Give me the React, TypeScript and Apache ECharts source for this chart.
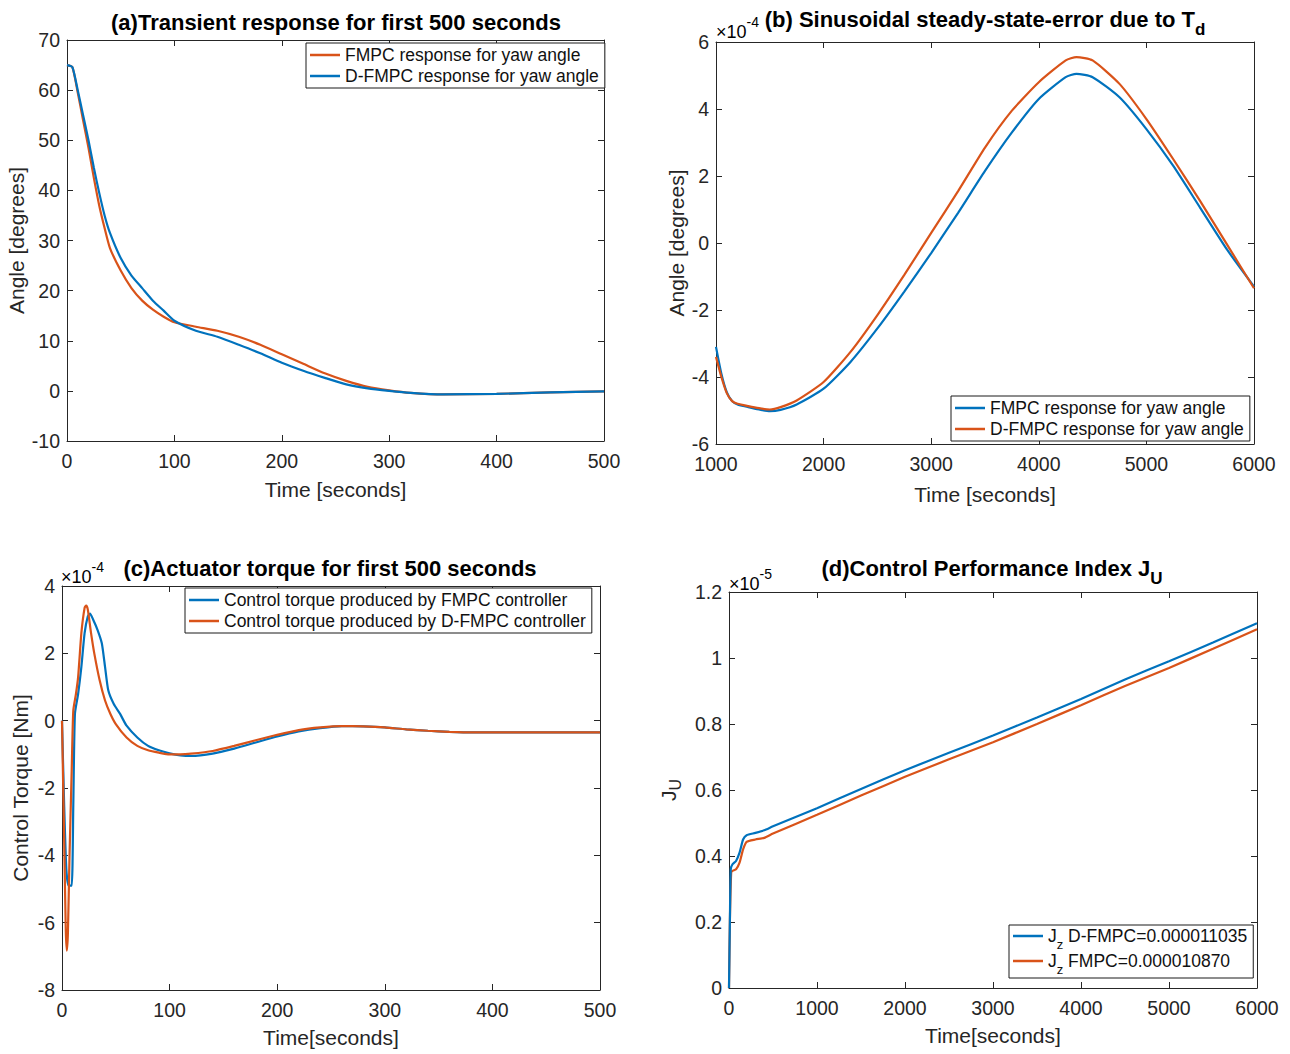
import React, { useEffect, useRef } from 'react';
import * as echarts from 'echarts';

const BLUE = '#0072BD';
const ORANGE = '#D95319';
const AX = '#262626';
const FONT = '"Liberation Sans", Arial, sans-serif';

// ---------- (a) Transient response for first 500 seconds (degrees)
const tA = [0, 5, 10, 15, 20, 25, 30, 35, 40, 50, 60, 70, 80, 90, 100, 120, 140, 160, 180, 200, 220, 240, 260, 280, 300, 320, 350, 400, 450, 500];
const aDFMPC = [65, 64.6, 60, 55, 50, 44.5, 39.5, 35, 31.5, 26.5, 23, 20.5, 18, 16, 14, 12, 10.8, 9.2, 7.5, 5.6, 4, 2.6, 1.3, 0.5, 0, -0.4, -0.7, -0.6, -0.3, -0.1];
const aFMPC = [65, 64.6, 59.5, 54, 48.5, 42.5, 37, 32.5, 28.5, 24, 20.5, 18, 16.2, 14.8, 13.7, 12.8, 12, 10.8, 9.2, 7.3, 5.4, 3.5, 2, 0.8, 0.1, -0.4, -0.7, -0.6, -0.3, -0.1];

// ---------- (b) Sinusoidal steady-state error (x 1e-4 degrees)
const tB = [1000, 1050, 1100, 1150, 1200, 1300, 1400, 1500, 1600, 1750, 2000, 2250, 2500, 2750, 3000, 3250, 3500, 3750, 4000, 4250, 4350, 4500, 4750, 5000, 5250, 5500, 5750, 6000];
const bFMPC = [-3.1, -3.9, -4.45, -4.72, -4.82, -4.9, -4.97, -5.02, -4.98, -4.82, -4.35, -3.55, -2.55, -1.45, -0.3, 0.9, 2.15, 3.3, 4.3, 4.95, 5.05, 4.95, 4.35, 3.4, 2.3, 1.05, -0.2, -1.3];
const bDFMPC = [-3.4, -4.0, -4.48, -4.72, -4.8, -4.87, -4.93, -4.97, -4.9, -4.7, -4.15, -3.25, -2.15, -0.95, 0.3, 1.55, 2.85, 3.95, 4.8, 5.45, 5.55, 5.45, 4.75, 3.7, 2.5, 1.25, -0.05, -1.35];

// ---------- (c) Actuator torque (x 1e-4 Nm)
const tCF = [0, 2, 4, 6, 9, 10.5, 12, 15, 18, 21, 24, 26, 29, 33, 37, 40, 43, 48, 54, 60, 70, 80, 90, 100, 110, 120, 140, 160, 180, 200, 220, 240, 260, 280, 300, 320, 340, 360, 380, 400, 450, 500];
const cFMPC = [0, -2.5, -4.4, -4.9, -4.9, -2.5, 0.2, 0.8, 1.6, 2.6, 3.1, 3.18, 3.0, 2.7, 2.3, 1.6, 0.9, 0.5, 0.2, -0.15, -0.5, -0.75, -0.88, -0.97, -1.03, -1.05, -0.98, -0.83, -0.65, -0.47, -0.32, -0.22, -0.16, -0.17, -0.2, -0.26, -0.3, -0.33, -0.35, -0.35, -0.35, -0.35];
const tCD = [0, 2, 3.5, 4.5, 5.5, 7, 9, 10.5, 13, 15, 18, 21, 22.5, 24, 27, 30, 35, 40, 45, 50, 60, 70, 80, 90, 100, 110, 120, 140, 160, 180, 200, 220, 240, 260, 280, 300, 320, 340, 360, 380, 400, 450, 500];
const cDFMPC = [0, -3.5, -6.2, -6.83, -6.3, -4, -1.5, 0.3, 0.8, 1.3, 2.6, 3.35, 3.42, 3.3, 2.6, 2.0, 1.2, 0.6, 0.2, -0.1, -0.5, -0.75, -0.88, -0.95, -1.0, -1.0, -0.98, -0.9, -0.75, -0.58, -0.42, -0.28, -0.2, -0.16, -0.17, -0.2, -0.26, -0.3, -0.33, -0.35, -0.35, -0.35, -0.35];

// ---------- (d) Control performance index (x 1e-5)
const tDB = [0, 10, 20, 40, 80, 120, 160, 200, 300, 400, 500, 1000, 1500, 2000, 2500, 3000, 3500, 4000, 4500, 5000, 5500, 6000];
const dDFMPC = [0, 0.2, 0.36, 0.375, 0.385, 0.41, 0.45, 0.463, 0.47, 0.478, 0.49, 0.545, 0.603, 0.66, 0.713, 0.765, 0.82, 0.876, 0.935, 0.99, 1.047, 1.105];
const tDO = [0, 10, 25, 40, 80, 120, 160, 200, 300, 400, 500, 1000, 1500, 2000, 2500, 3000, 3500, 4000, 4500, 5000, 5500, 6000];
const dFMPC = [0, 0.2, 0.35, 0.355, 0.36, 0.38, 0.42, 0.443, 0.45, 0.455, 0.468, 0.525, 0.583, 0.64, 0.693, 0.745, 0.8, 0.857, 0.915, 0.97, 1.028, 1.087];

const LABELS: Record<string, string> = {
  aF: 'FMPC response for yaw angle',
  aD: 'D-FMPC response for yaw angle',
  bF: 'FMPC response for yaw angle',
  bD: 'D-FMPC response for yaw angle',
  cF: 'Control torque produced by FMPC controller',
  cD: 'Control torque produced by D-FMPC controller',
  dD: '{j|J}{s|z}{t| D-FMPC=0.000011035}',
  dF: '{j|J}{s|z}{t| FMPC=0.000010870}',
};

const grids = [
  { left: 67, top: 40, width: 537, height: 401 },
  { left: 716, top: 42, width: 538, height: 402 },
  { left: 62, top: 586, width: 538, height: 404 },
  { left: 729, top: 592, width: 528, height: 396 },
];

const TICK = 19.5;
const NAME = 21;

const fmt = (v: number) => String(parseFloat(Number(v).toFixed(6)));

function xPair(g: number, min: number, max: number, interval: number, name: string, gap: number) {
  const common = {
    type: 'value', gridIndex: g, min, max, interval,
    splitLine: { show: false },
    axisLine: { onZero: false, lineStyle: { color: AX, width: 1 } },
    axisTick: { inside: true, length: 6, lineStyle: { color: AX } },
  };
  return [
    {
      ...common, position: 'bottom', name, nameLocation: 'middle', nameGap: gap,
      nameTextStyle: { fontSize: NAME, color: AX, fontFamily: FONT },
      axisLabel: { fontSize: TICK, color: AX, fontFamily: FONT, margin: 10, formatter: fmt },
    },
    { ...common, position: 'top', axisLabel: { show: false } },
  ];
}

function yPair(g: number, min: number, max: number, interval: number, name: string, gap: number, rich?: any) {
  const common = {
    type: 'value', gridIndex: g, min, max, interval,
    splitLine: { show: false },
    axisLine: { onZero: false, lineStyle: { color: AX, width: 1 } },
    axisTick: { inside: true, length: 6, lineStyle: { color: AX } },
  };
  return [
    {
      ...common, position: 'left', name, nameLocation: 'middle', nameGap: gap, nameRotate: 90,
      nameTextStyle: { fontSize: NAME, color: AX, fontFamily: FONT, rich },
      axisLabel: { fontSize: TICK, color: AX, fontFamily: FONT, margin: 7, formatter: fmt },
    },
    { ...common, position: 'right', axisLabel: { show: false } },
  ];
}

function line(name: string, xs: number[], ys: number[], color: string, g: number, z: number) {
  return {
    type: 'line', name, xAxisIndex: 2 * g, yAxisIndex: 2 * g,
    data: xs.map((x, i) => [x, ys[i]]),
    symbol: 'none', showSymbol: false, smooth: 0.2,
    lineStyle: { color, width: 2.2 }, itemStyle: { color }, z, clip: true,
  };
}

function legend(names: string[], left: number, top: number, extra: any = {}) {
  return {
    data: names, orient: 'vertical', left, top, selectedMode: false,
    backgroundColor: '#fff', borderColor: '#1a1a1a', borderWidth: 1,
    padding: [3, 6, 3, 4], itemGap: 3, itemWidth: 30, itemHeight: 2.5, icon: 'rect',
    formatter: (n: string) => LABELS[n],
    textStyle: { fontSize: 17.5, color: '#111', fontFamily: FONT, ...(extra.textStyle || {}) },
    ...extra.rest,
  };
}

const subRich = (size: number, sub: number, lh: number, bold = false) => ({
  m: { fontSize: size, fontFamily: FONT, fontWeight: bold ? 'bold' : 'normal', color: bold ? '#000' : AX, lineHeight: lh, verticalAlign: 'middle' },
  s: { fontSize: sub, fontFamily: FONT, fontWeight: bold ? 'bold' : 'normal', color: bold ? '#000' : AX, lineHeight: lh, verticalAlign: 'bottom' },
});

function title(text: string, x: number, y: number) {
  return {
    type: 'text', x, y, z: 100,
    style: {
      text, rich: subRich(22, 17, 38, true),
      fontSize: 22, fontWeight: 'bold', fontFamily: FONT, fill: '#000',
      align: 'center', verticalAlign: 'middle',
    },
  };
}

function mult(exp: string, x: number, y: number) {
  return {
    type: 'text', x, y, z: 100,
    style: {
      text: `{a|×10}{b|${exp}}`,
      rich: {
        a: { fontSize: 18, fontFamily: FONT, color: AX, lineHeight: 26, verticalAlign: 'bottom' },
        b: { fontSize: 14, fontFamily: FONT, color: AX, lineHeight: 26, verticalAlign: 'top' },
      },
      align: 'left', verticalAlign: 'middle',
    },
  };
}

const option: any = {
  animation: false,
  backgroundColor: '#fff',
  grid: grids.map((g) => ({ ...g, containLabel: false })),
  xAxis: [
    ...xPair(0, 0, 500, 100, 'Time [seconds]', 38),
    ...xPair(1, 1000, 6000, 1000, 'Time [seconds]', 40),
    ...xPair(2, 0, 500, 100, 'Time[seconds]', 37),
    ...xPair(3, 0, 6000, 1000, 'Time[seconds]', 37),
  ],
  yAxis: [
    ...yPair(0, -10, 70, 10, 'Angle [degrees]', 40),
    ...yPair(1, -6, 6, 2, 'Angle [degrees]', 29),
    ...yPair(2, -8, 4, 2, 'Control Torque [Nm]', 31),
    ...yPair(3, 0, 1.2, 0.2, '{m|J}{s|U}', 46, subRich(NAME, 16, 30)),
  ],
  legend: [
    legend(['aF', 'aD'], 306, 43),
    legend(['bF', 'bD'], 951, 396),
    legend(['cF', 'cD'], 185, 588),
    legend(['dD', 'dF'], 1009, 925, {
      textStyle: {
        rich: {
          j: { fontSize: 17.5, fontFamily: FONT, color: '#111', lineHeight: 30, verticalAlign: 'middle' },
          s: { fontSize: 13, fontFamily: FONT, color: '#111', lineHeight: 30, verticalAlign: 'bottom' },
          t: { fontSize: 17.5, fontFamily: FONT, color: '#111', lineHeight: 30, verticalAlign: 'middle' },
        },
      },
      rest: { itemGap: 1, padding: [2, 6, 2, 4] },
    }),
  ],
  series: [
    line('aF', tA, aFMPC, ORANGE, 0, 2),
    line('aD', tA, aDFMPC, BLUE, 0, 3),
    line('bF', tB, bFMPC, BLUE, 1, 2),
    line('bD', tB, bDFMPC, ORANGE, 1, 3),
    line('cF', tCF, cFMPC, BLUE, 2, 2),
    line('cD', tCD, cDFMPC, ORANGE, 2, 3),
    line('dF', tDO, dFMPC, ORANGE, 3, 2),
    line('dD', tDB, dDFMPC, BLUE, 3, 3),
  ],
  graphic: [
    title('{m|(a)Transient response for first 500 seconds}', 336, 22),
    title('{m|(b) Sinusoidal steady-state-error due to T}{s|d}', 985, 19),
    title('{m|(c)Actuator torque for first 500 seconds}', 330, 568),
    title('{m|(d)Control Performance Index J}{s|U}', 992, 568),
    mult('-4', 716, 28),
    mult('-4', 61, 573),
    mult('-5', 729, 580),
  ],
};

export default function App() {
  const ref = useRef<HTMLDivElement>(null);
  useEffect(() => {
    const chart = echarts.init(ref.current!, null, { renderer: 'svg' });
    chart.setOption(option);
    return () => chart.dispose();
  }, []);
  return (
    <div
      ref={ref}
      style={{ position: 'absolute', left: 0, top: 0, width: 1290, height: 1054, background: '#fff' }}
    />
  );
}
